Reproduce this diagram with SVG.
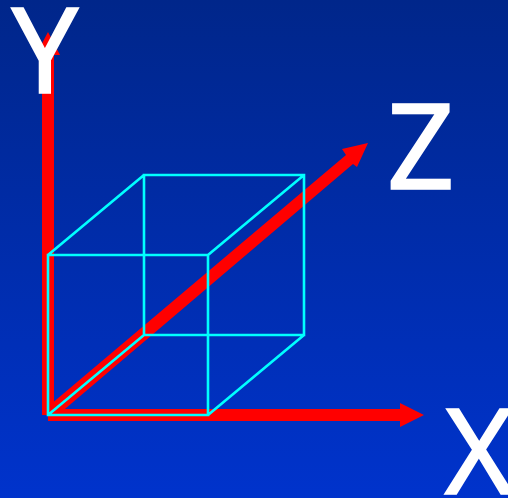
<svg xmlns="http://www.w3.org/2000/svg" width="508" height="498" viewBox="0 0 508 498">
<style>
.axis{fill:#ff0000}
.edge{fill:none;stroke:#00ffff;stroke-width:2.6}
.lbl{font-family:"Noto Sans",sans-serif;font-size:118px;fill:#ffffff;stroke:#ffffff;stroke-width:1.6}
</style>
<defs><linearGradient id="bg" x1="0" y1="0" x2="0" y2="1"><stop offset="0" stop-color="#00268a"/><stop offset="1" stop-color="#0033cc"/></linearGradient></defs>
<rect width="508" height="498" fill="url(#bg)"/>
<g id="connectors">
<polygon id="axis-y" class="axis" points="42,415 42,55 36,55 48,32 60,55 54,55 54,415"/>
<polygon id="axis-x" class="axis" points="48,409 400,409 400,403 424,415 400,427 400,421 48,421"/>
<polygon id="axis-z" class="axis" points="44,410 346,155 342,149 368,143 357,167 353,164 52,420"/>
<g id="cube">
<path class="edge" d="M48 255H208V415H48ZM144 175H304V335H144ZM48 255L144 175M208 255L304 175M208 415L304 335M48 415L144 335"/>
</g>
</g>
<g id="label-y"><text class="lbl" x="11.5" y="92.5">Y</text></g>
<g id="label-z"><text class="lbl" x="387" y="188.5">Z</text></g>
<g id="label-x"><text class="lbl" x="444.5" y="493.5">X</text></g>
</svg>
